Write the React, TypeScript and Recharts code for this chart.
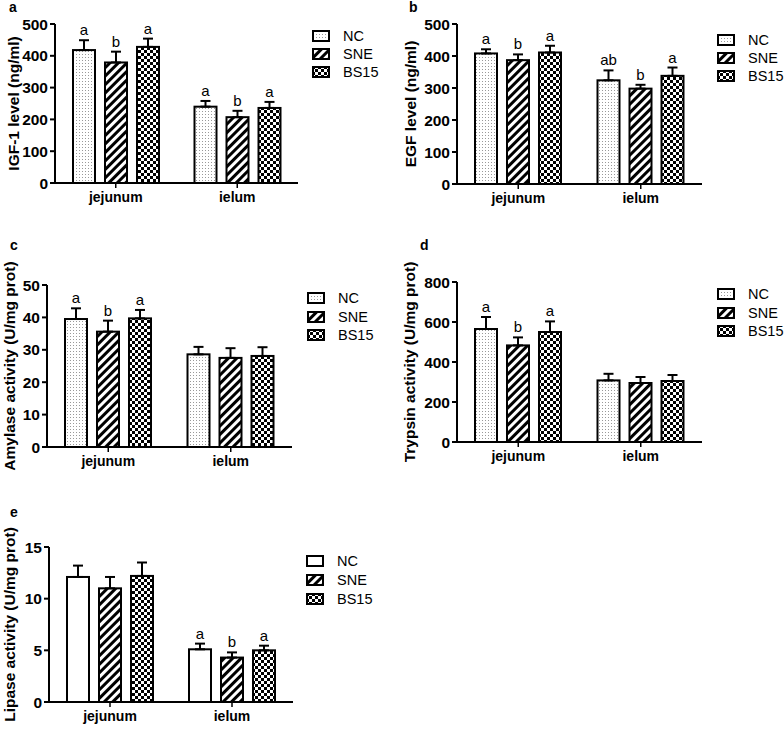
import { BarChart, Bar, XAxis, YAxis, ErrorBar } from "recharts";

const FONT = "'Liberation Sans', Arial, sans-serif";

const categories = ["jejunum", "ielum"];
const groups = ["NC", "SNE", "BS15"];

// rows: jejunum, ielum; columns: NC, SNE, BS15
const igfMean = [[418, 379, 428], [240, 207, 236]];
const igfSem = [[31, 34, 26], [18, 20, 19]];
const igfSig = [["a", "b", "a"], ["a", "b", "a"]];
const igfTicks = [0, 100, 200, 300, 400, 500];

const egfMean = [[408, 387, 411], [324, 298, 338]];
const egfSem = [[13, 18, 21], [31, 12, 26]];
const egfSig = [["a", "b", "a"], ["ab", "b", "a"]];
const egfTicks = [0, 100, 200, 300, 400, 500];

const amylaseMean = [[39.5, 35.6, 39.7], [28.6, 27.5, 28.1]];
const amylaseSem = [[3.3, 3.4, 2.6], [2.3, 3.0, 2.7]];
const amylaseSig = [["a", "b", "a"], ["", "", ""]];
const amylaseTicks = [0, 10, 20, 30, 40, 50];

const trypsinMean = [[565, 483, 550], [308, 295, 305]];
const trypsinSem = [[60, 40, 53], [33, 30, 30]];
const trypsinSig = [["a", "b", "a"], ["", "", ""]];
const trypsinTicks = [0, 200, 400, 600, 800];

const lipaseMean = [[12.1, 11.0, 12.2], [5.1, 4.3, 5.0]];
const lipaseSem = [[1.1, 1.1, 1.3], [0.55, 0.5, 0.45]];
const lipaseSig = [["", "", ""], ["a", "b", "a"]];
const lipaseTicks = [0, 5, 10, 15];

const patternFills = ["url(#dots)", "url(#stripes)", "url(#checks)"];
const plainFills = ["#fff", "url(#stripes)", "url(#checks)"];

function buildRows(mean: number[][], sem: number[][], sig: string[][]) {
  return categories.map((c, i) => {
    const row: any = { name: c };
    groups.forEach((g, j) => {
      row[g] = mean[i][j];
      row[g + "_err"] = [0, sem[i][j]];
      row[g + "_sig"] = sig[i][j];
    });
    return row;
  });
}

function makeShape(g: string, fill: string) {
  return (props: any) => {
    const { x, y, width, height, payload } = props;
    const v = payload[g];
    const up = payload[g + "_err"][1];
    const letter = payload[g + "_sig"];
    const top = y - (v ? (up * height) / v : 0);
    return (
      <g>
        <rect x={x} y={y} width={width} height={height} fill={fill} stroke="#000" strokeWidth={2} />
        {letter ? (
          <text x={x + width / 2} y={top - 5} textAnchor="middle" fontSize={15} fontFamily={FONT} fill="#000">
            {letter}
          </text>
        ) : null}
      </g>
    );
  };
}

const panels = [
  { tag: "a", title: "IGF-1 level (ng/ml)", mean: igfMean, sem: igfSem, sig: igfSig, ticks: igfTicks, fills: patternFills,
    left: 0, yw: 55, right: 298, top: 24, bottom: 183, titleOff: 13, tagX: 9, tagY: 0, lx: 312, ly: 27, lh: 18 },
  { tag: "b", title: "EGF level (ng/ml)", mean: egfMean, sem: egfSem, sig: egfSig, ticks: egfTicks, fills: patternFills,
    left: 400, yw: 57, right: 702, top: 24, bottom: 184, titleOff: 10, tagX: 409, tagY: 0, lx: 717, ly: 31, lh: 18 },
  { tag: "c", title: "Amylase activity (U/mg prot)", mean: amylaseMean, sem: amylaseSem, sig: amylaseSig, ticks: amylaseTicks, fills: patternFills,
    left: 0, yw: 47, right: 292, top: 285, bottom: 447, titleOff: 9, tagX: 10, tagY: 238, lx: 307, ly: 289, lh: 18.5 },
  { tag: "d", title: "Trypsin activity (U/mg prot)", mean: trypsinMean, sem: trypsinSem, sig: trypsinSig, ticks: trypsinTicks, fills: patternFills,
    left: 400, yw: 57, right: 702, top: 282, bottom: 442, titleOff: 9, tagX: 420, tagY: 238, lx: 717, ly: 285, lh: 18.5 },
  { tag: "e", title: "Lipase activity (U/mg prot)", mean: lipaseMean, sem: lipaseSem, sig: lipaseSig, ticks: lipaseTicks, fills: plainFills,
    left: 0, yw: 49, right: 293, top: 547, bottom: 702, titleOff: 9, tagX: 10, tagY: 505, lx: 306, ly: 551, lh: 19 },
];

const TOP_PAD = 40;

function Panel({ p }: { p: any }) {
  const chartTop = p.top - TOP_PAD;
  const w = p.right - p.left;
  const h = p.bottom - chartTop + 30;
  const rows = buildRows(p.mean, p.sem, p.sig);
  const tickStyle = { fill: "#000", fontSize: 15.5, fontWeight: "bold", fontFamily: FONT };
  return (
    <>
      <div style={{ position: "absolute", left: p.tagX, top: p.tagY, fontFamily: FONT, fontWeight: "bold", fontSize: 14, lineHeight: "14px" }}>
        {p.tag}
      </div>
      <div style={{ position: "absolute", left: p.left, top: chartTop }}>
        <BarChart width={w} height={h} data={rows} margin={{ top: TOP_PAD, right: 0, bottom: 0, left: 0 }} barSize={22} barGap={10}>
          <XAxis
            dataKey="name"
            interval={0}
            height={30}
            tickSize={5}
            tickMargin={4}
            tick={{ ...tickStyle, fontSize: 14 }}
            axisLine={{ stroke: "#000", strokeWidth: 2 }}
            tickLine={{ stroke: "#000", strokeWidth: 1.5 }}
          />
          <YAxis
            width={p.yw}
            domain={[0, p.ticks[p.ticks.length - 1]]}
            ticks={p.ticks}
            interval={0}
            tickSize={5}
            tick={tickStyle}
            axisLine={{ stroke: "#000", strokeWidth: 2 }}
            tickLine={{ stroke: "#000", strokeWidth: 2 }}
            label={{
              value: p.title,
              angle: -90,
              position: "insideLeft",
              offset: p.titleOff,
              style: { textAnchor: "middle", fontWeight: "bold", fontSize: 15.5, fill: "#000", fontFamily: FONT },
            }}
          />
          {groups.map((g, j) => (
            <Bar key={g} dataKey={g} isAnimationActive={false} shape={makeShape(g, p.fills[j])}>
              <ErrorBar dataKey={g + "_err"} direction="y" width={5} stroke="#000" strokeWidth={2} />
            </Bar>
          ))}
        </BarChart>
      </div>
      <div style={{ position: "absolute", left: p.lx, top: p.ly, fontFamily: FONT, fontSize: 14.5 }}>
        {groups.map((g, j) => (
          <div key={g} style={{ display: "flex", alignItems: "center", height: p.lh }}>
            <svg width={18} height={12} style={{ marginRight: 13 }}>
              <rect x={1} y={1} width={16} height={10} fill={p.fills[j]} stroke="#000" strokeWidth={2} />
            </svg>
            <span>{g}</span>
          </div>
        ))}
      </div>
    </>
  );
}

export default function App() {
  return (
    <div style={{ position: "absolute", left: 0, top: 0, width: 784, height: 732, background: "#fff" }}>
      <svg width={0} height={0} style={{ position: "absolute" }}>
        <defs>
          <pattern id="dots" width={3} height={3} patternUnits="userSpaceOnUse">
            <rect width={3} height={3} fill="#fff" />
            <rect x={1} y={1} width={1} height={1} fill="#999" />
          </pattern>
          <pattern id="stripes" width={6} height={6} patternUnits="userSpaceOnUse" patternTransform="rotate(45)">
            <rect width={6} height={6} fill="#fff" />
            <rect width={3} height={6} fill="#000" />
          </pattern>
          <pattern id="checks" width={6} height={6} patternUnits="userSpaceOnUse">
            <rect width={6} height={6} fill="#fff" />
            <rect width={3} height={3} fill="#000" />
            <rect x={3} y={3} width={3} height={3} fill="#000" />
          </pattern>
        </defs>
      </svg>
      {panels.map((p) => (
        <Panel key={p.tag} p={p} />
      ))}
    </div>
  );
}
